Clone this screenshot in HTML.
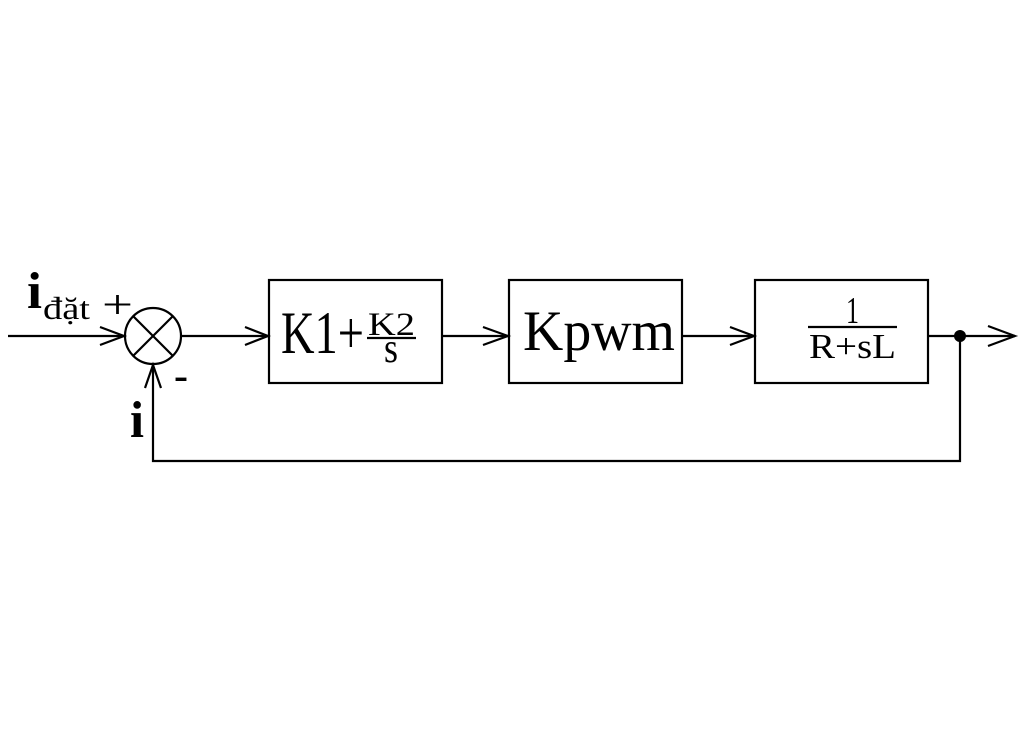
<!DOCTYPE html>
<html><head><meta charset="utf-8"><style>
html,body{margin:0;padding:0;background:#fff;}
svg{display:block}
text{font-family:"Liberation Serif",serif;fill:#000}
</style></head><body>
<svg width="1024" height="732" viewBox="0 0 1024 732">
<g stroke="#000" stroke-width="2.2" fill="none">
<line x1="8" y1="336" x2="125" y2="336"/>
<polyline points="100,327 124,336 100,345"/>
<circle cx="153" cy="336" r="28"/>
<line x1="133" y1="316" x2="173" y2="356"/>
<line x1="173" y1="316" x2="133" y2="356"/>
<line x1="181" y1="336" x2="268" y2="336"/>
<polyline points="245,327 268,336 245,345"/>
<rect x="269" y="280" width="173" height="103"/>
<line x1="442" y1="336" x2="508" y2="336"/>
<polyline points="483,327 508,336 483,345"/>
<rect x="509" y="280" width="173" height="103"/>
<line x1="682" y1="336" x2="754" y2="336"/>
<polyline points="730,327 754,336 730,345"/>
<rect x="755" y="280" width="173" height="103"/>
<line x1="928" y1="336" x2="1015" y2="336"/>
<polyline points="988,326 1015,336 988,346"/>
<polyline points="960,336 960,461 153,461 153,365"/>
<polyline points="145,388 153,365 161,388"/>
<line x1="367" y1="338" x2="416" y2="338"/>
<line x1="808" y1="327" x2="897" y2="327"/>
</g>
<circle cx="960" cy="336" r="6" fill="#000"/>
<text x="27" y="308" font-size="52" font-weight="bold" textLength="15" lengthAdjust="spacingAndGlyphs">i</text>
<text x="43" y="319" font-size="32" textLength="47" lengthAdjust="spacingAndGlyphs">đặt</text>
<text x="102" y="318" font-size="40" textLength="31" lengthAdjust="spacingAndGlyphs">+</text>
<text x="174" y="389" font-size="40" font-weight="bold" textLength="14" lengthAdjust="spacingAndGlyphs">-</text>
<text x="130" y="437" font-size="52" font-weight="bold" textLength="14" lengthAdjust="spacingAndGlyphs">i</text>
<text x="281" y="353" font-size="60" textLength="83" lengthAdjust="spacingAndGlyphs">K1+</text>
<text x="368" y="335" font-size="33" textLength="47" lengthAdjust="spacingAndGlyphs">K2</text>
<text x="384" y="362" font-size="42" textLength="14" lengthAdjust="spacingAndGlyphs">s</text>
<text x="523" y="350" font-size="57" textLength="152" lengthAdjust="spacingAndGlyphs">Kpwm</text>
<text x="846" y="323" font-size="38" textLength="13" lengthAdjust="spacingAndGlyphs">1</text>
<text x="809" y="358" font-size="35" textLength="87" lengthAdjust="spacingAndGlyphs">R+sL</text>
</svg>
</body></html>
